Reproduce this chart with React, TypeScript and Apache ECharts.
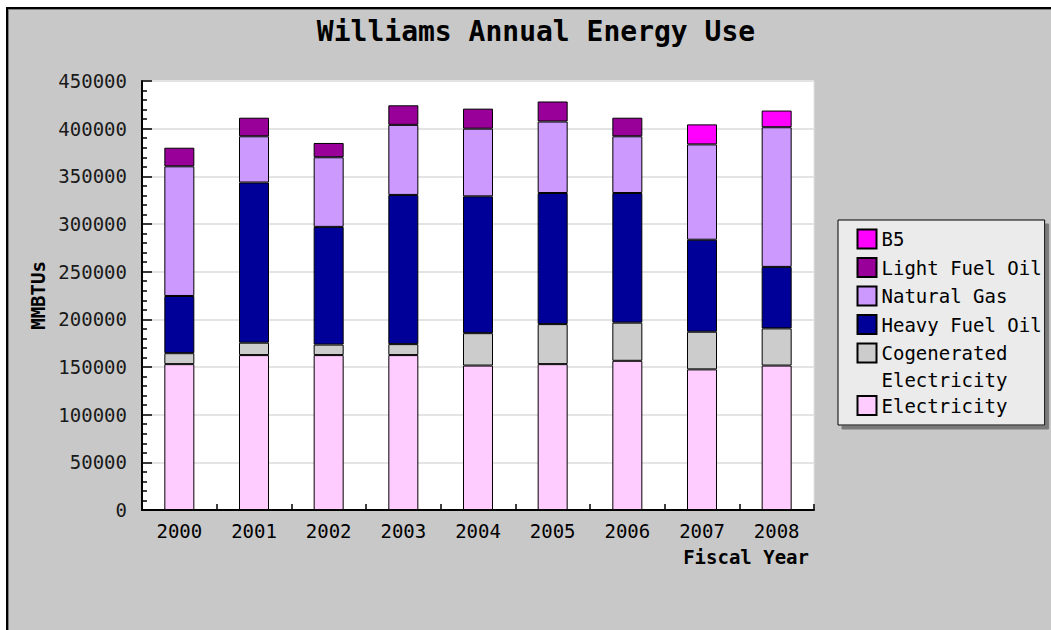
import React, { useEffect, useRef } from 'react';
import * as echarts from 'echarts';

const years = ['2000', '2001', '2002', '2003', '2004', '2005', '2006', '2007', '2008'];
const electricity = [153000, 162500, 162500, 162500, 151500, 153000, 156500, 147500, 151500];
const cogenerated = [11500, 13000, 11000, 11500, 34000, 42000, 40000, 39500, 39000];
const heavyFuelOil = [60000, 168000, 123500, 156500, 143500, 137500, 136000, 96500, 64500];
const naturalGas = [136000, 48500, 73000, 73500, 71000, 75000, 59500, 100000, 146500];
const lightFuelOil = [19500, 19500, 15000, 20500, 21000, 21000, 19500, null, null];
const b5 = [null, null, null, null, null, null, null, 21000, 17500];

const seriesNames = ['Electricity', 'Cogenerated Electricity', 'Heavy Fuel Oil', 'Natural Gas', 'Light Fuel Oil', 'B5'];
const seriesColors = ['#ffccff', '#cccccc', '#000099', '#cc99ff', '#990099', '#ff00ff'];
const seriesData = [electricity, cogenerated, heavyFuelOil, naturalGas, lightFuelOil, b5];
const legendOrder = ['B5', 'Light Fuel Oil', 'Natural Gas', 'Heavy Fuel Oil', 'Cogenerated Electricity', 'Electricity'];

const MONO = "'DejaVu Sans Mono', monospace";

export default function App() {
  const ref = useRef<HTMLDivElement>(null);
  useEffect(() => {
    const chart = echarts.init(ref.current!, null, { renderer: 'svg' });
    const tokenBase = { fontFamily: MONO, fontSize: 19, color: '#000' };
    const option: any = {
      animation: false,
      textStyle: { fontFamily: MONO, color: '#000' },
      title: {
        text: 'Williams Annual Energy Use',
        left: 528,
        top: 8,
        padding: 0,
        textAlign: 'center',
        textStyle: { fontFamily: MONO, fontSize: 28, fontWeight: 'bold', color: '#000' },
      },
      legend: {
        orient: 'vertical',
        left: 830,
        top: 211,
        padding: [6.5, 3, 7, 18.5],
        itemWidth: 19,
        itemHeight: 19,
        itemGap: 3.5,
        selectedMode: false,
        backgroundColor: '#ebebeb',
        borderColor: '#000',
        borderWidth: 1,
        borderRadius: 0,
        shadowColor: '#7a7a7a',
        shadowOffsetX: 4,
        shadowOffsetY: 4,
        shadowBlur: 0,
        textStyle: { fontFamily: MONO, fontSize: 19, color: '#000', lineHeight: 25 },
        formatter: (name: string) =>
          name === 'Cogenerated Electricity' ? '{c1|Cogenerated}\n{c2|Electricity}' : name,
        data: legendOrder.map((name) =>
          name === 'Cogenerated Electricity'
            ? {
                name,
                icon: 'rect',
                textStyle: {
                  rich: {
                    c1: { ...tokenBase, lineHeight: 25 },
                    c2: { ...tokenBase, lineHeight: 0, verticalAlign: 'top', padding: [5, 0, 0, 0] },
                  },
                },
              }
            : { name, icon: 'rect' }
        ),
      },
      grid: {
        left: 134,
        top: 72,
        width: 672,
        height: 429,
        show: true,
        backgroundColor: '#ffffff',
        borderColor: '#e2e2e2',
        borderWidth: 1,
        outerBoundsMode: 'none',
        containLabel: false,
      },
      xAxis: {
        type: 'category',
        data: years,
        name: 'Fiscal Year',
        nameLocation: 'end',
        nameGap: 0,
        nameMoveOverlap: false,
        nameTextStyle: {
          fontFamily: MONO,
          fontSize: 19,
          fontWeight: 'bold',
          color: '#000',
          align: 'right',
          verticalAlign: 'top',
          padding: [37, 5, 0, 0],
        },
        axisLine: { show: true, lineStyle: { color: '#000', width: 2 } },
        axisTick: { show: true, inside: true, length: 6, alignWithLabel: false, lineStyle: { color: '#000', width: 1.5 } },
        axisLabel: { fontFamily: MONO, fontSize: 19, color: '#000', margin: 11 },
        splitLine: { show: false },
      },
      yAxis: {
        type: 'value',
        min: 0,
        max: 450000,
        interval: 50000,
        name: 'MMBTUs',
        nameLocation: 'middle',
        nameGap: 86,
        nameTextStyle: { fontFamily: MONO, fontSize: 19, fontWeight: 'bold', color: '#000' },
        axisLine: { show: true, lineStyle: { color: '#000', width: 2 } },
        axisTick: { show: true, inside: true, length: 10, lineStyle: { color: '#000', width: 1.5 } },
        minorTick: { show: true, splitNumber: 5, length: 5, lineStyle: { color: '#000', width: 1.5 } },
        axisLabel: {
          fontFamily: MONO,
          fontSize: 19,
          color: '#1a1a1a',
          margin: 15,
          formatter: (v: number) => String(v),
        },
        splitLine: { show: true, lineStyle: { color: '#e4e4e4', width: 2 } },
        minorSplitLine: { show: false },
      },
      series: seriesNames.map((name, i) => ({
        name,
        type: 'bar',
        stack: 'total',
        barWidth: 30,
        data: seriesData[i],
        itemStyle: { color: seriesColors[i], borderColor: '#000', borderWidth: 1 },
        emphasis: { disabled: true },
      })),
    };
    chart.setOption(option);
    return () => chart.dispose();
  }, []);
  return (
    <div
      style={{
        position: 'fixed',
        left: 6,
        top: 7,
        width: 1045,
        height: 623,
        borderLeft: '2px solid #000',
        borderTop: '2px solid #000',
        boxSizing: 'border-box',
        background: '#c8c8c8',
        boxShadow: 'inset 1px 1px 0 #808080',
        overflow: 'hidden',
      }}
    >
      <div ref={ref} style={{ width: 1043, height: 621 }} />
    </div>
  );
}
